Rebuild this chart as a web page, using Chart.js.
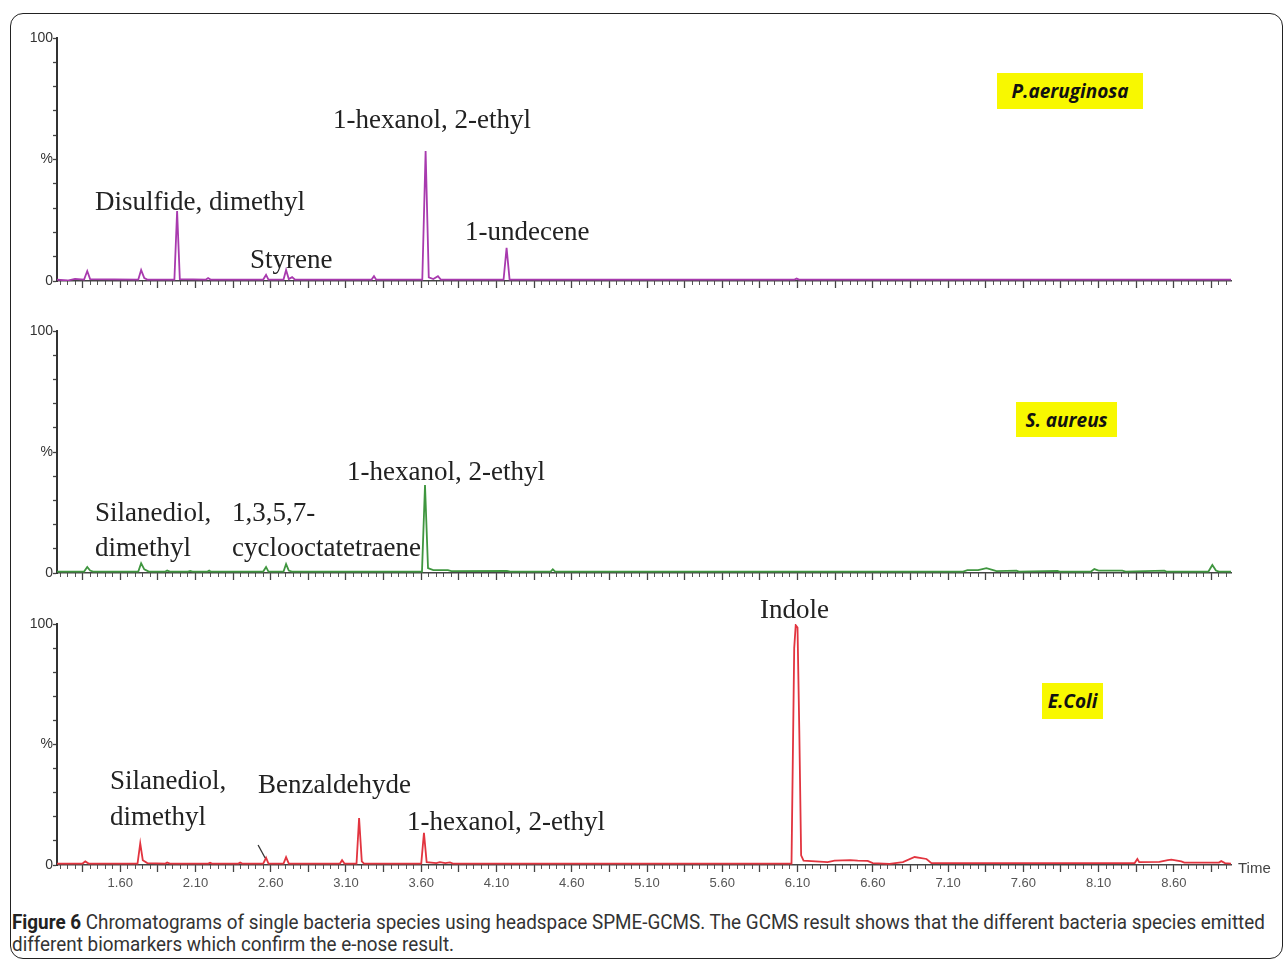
<!DOCTYPE html>
<html><head><meta charset="utf-8">
<script src="https://cdn.jsdelivr.net/npm/chart.js@4/dist/chart.umd.min.js"></script>
<style>
html,body{margin:0;padding:0;background:#fff;}
body{width:1285px;height:967px;position:relative;overflow:hidden;}
#frame{position:absolute;left:10px;top:13px;width:1273px;height:946px;border:1.5px solid #222;border-radius:13px;box-sizing:border-box;}
canvas{position:absolute;left:0;}
.lbl{position:absolute;font-family:'Liberation Serif','Times New Roman',serif;font-size:27px;line-height:27px;color:#222;white-space:nowrap;}
.sp{position:absolute;background:#f8f800;font-family:'Open Sans',sans-serif;font-weight:700;font-style:italic;font-size:19px;color:#111;display:flex;align-items:center;justify-content:center;white-space:nowrap;}
.time{position:absolute;left:1238px;top:859px;font-family:'Liberation Sans',Arial,sans-serif;font-size:15px;color:#444;}
#cap{position:absolute;left:12px;top:912px;font-family:'Liberation Sans Narrow','Roboto','Noto Sans',sans-serif;font-size:19.5px;line-height:22px;color:#333;white-space:nowrap;}
#cap div{transform-origin:left center;}
#cap b{color:#222;}
</style></head>
<body>
<div id="frame"></div>
<canvas id="c1"></canvas>
<canvas id="c2"></canvas>
<canvas id="c3"></canvas>
<div id="labels"></div>
<div class="time">Time</div>
<div id="cap"><div id="cap1"><b>Figure 6</b> Chromatograms of single bacteria species using headspace SPME-GCMS. The GCMS result shows that the different bacteria species emitted</div><div id="cap2">different biomarkers which confirm the e-nose result.</div></div>
<script>
// ---------- data (retention time in min, relative abundance in %) ----------
const xTickLabels = ['1.60','2.10','2.60','3.10','3.60','4.10','4.60','5.10','5.60','6.10','6.60','7.10','7.60','8.10','8.60'];
const yTickValues = [0, 50, 100];
const yTickTexts = ['0', '%', '100'];

const paTimes  = [1.18,1.25,1.30,1.36,1.381,1.40,1.72,1.739,1.76,1.78,1.960,1.978,1.996,2.17,2.184,2.20,2.55,2.569,2.585,2.685,2.702,2.72,2.742,2.76,3.27,3.286,3.30,3.607,3.629,3.65,3.68,3.711,3.73,4.147,4.167,4.187,6.08,6.094,6.11,8.98];
const paSignal = [0.6, 0.2, 0.9, 0.6, 4.1,  0.8, 0.6, 4.5,  1.2, 0.6, 0.6,  28.8, 0.8,  0.6, 1.2,  0.6, 0.6, 2.5,  0.6,  0.6,  4.5,  0.8, 1.6,  0.6, 0.6, 2.0,  0.6, 0.6,  53.5, 1.5, 0.8, 2.0,  0.6, 0.6,  13.6, 0.6,  0.6, 1.0,  0.6, 0.6];

const saTimes  = [1.18,1.36,1.381,1.40,1.42,1.72,1.739,1.76,1.79,1.90,1.912,1.93,2.05,2.065,2.08,2.18,2.191,2.20,2.55,2.569,2.585,2.685,2.702,2.72,2.74,3.605,3.625,3.645,3.68,3.777,3.80,4.169,4.19,4.46,4.474,4.49,7.20,7.229,7.30,7.355,7.40,7.422,7.555,7.57,7.827,7.84,8.05,8.072,8.10,8.258,8.28,8.537,8.55,8.83,8.856,8.88,8.90,8.98];
const saSignal = [0.6, 0.6, 2.5,  1.0, 0.6, 0.6, 4.0,  1.5, 0.6, 0.6, 1.0,  0.6, 0.6, 0.9,  0.6, 0.6, 1.0,  0.6, 0.6, 2.5,  0.6,  0.6,  3.7,  1.0, 0.6, 0.6,  36.4, 2.0,  1.2, 1.2,  0.8, 0.9,  0.6, 0.6, 1.5,  0.6, 0.6, 1.2,  1.2, 2.0,  1.2, 0.8,  1.0,  0.6, 0.9,  0.6, 0.6, 1.6,  1.0, 1.0,  0.6, 1.0,  0.6, 0.6, 3.3,  1.0, 0.6, 0.6];

const ecTimes  = [1.18,1.35,1.368,1.39,1.715,1.733,1.75,1.78,1.90,1.912,1.93,2.185,2.197,2.21,2.385,2.397,2.41,2.55,2.569,2.585,2.685,2.702,2.72,3.06,3.074,3.09,3.170,3.187,3.205,3.22,3.600,3.618,3.636,3.70,3.724,3.76,3.791,3.81,6.060,6.078,6.088,6.100,6.112,6.124,6.14,6.30,6.346,6.45,6.50,6.566,6.60,6.711,6.80,6.878,6.957,6.99,8.34,8.358,8.37,8.504,8.56,8.584,8.65,8.670,8.90,8.915,8.94,8.98];
const ecSignal = [0.6, 0.6, 1.5,  0.6, 0.6,  9.0,  2.0, 0.8, 0.6, 1.0,  0.6, 0.6,  0.9,  0.6, 0.6,  1.0,  0.6, 0.6, 3.0,  0.6,  0.6,  3.3,  0.6, 0.6, 2.0,  0.6, 0.6,  19.5, 1.5,  0.6, 0.6,  13.3, 1.2,  0.8, 1.2,  0.8, 1.1,  0.6, 0.6,  90.0, 99.5, 98.5, 55.0, 4.0,  1.8, 1.2, 1.8,  2.0, 1.8, 1.7,  0.8, 0.5,  1.2, 3.3,  2.5,  0.8, 0.8, 2.5,  1.2, 1.3,  2.0, 2.2,  1.5, 1.0,  1.0, 1.6,  0.8, 0.6];

// annotation arrow (E. coli, near 2.57 min), in data units [time, %]
const ecArrow = [[2.516, 8.3], [2.563, 2.9]];

// ---------- layout ----------
const AREA_LEFT = 57, AREA_RIGHT = 1231, PAD_TOP = 16, BOTTOM_SPACE = 30;
const xMin = 1.18, xMax = 8.98;
const xTickValues = xTickLabels.map(Number);
const majorTicks = []; for (let k = 0; k <= 30; k++) majorTicks.push(Math.round((1.35 + 0.25 * k) * 100) / 100);
const minorTicks = []; for (let k = 0; k <= 155; k++) minorTicks.push(Math.round((1.20 + 0.05 * k) * 100) / 100);
const yMarks = []; for (let k = 0; k <= 10; k++) yMarks.push(k * 10);

const arrowPlugin = {
  id: 'arrow',
  afterDatasetsDraw(chart, args, opts) {
    if (!opts.points) return;
    const {ctx, scales: {x, y}} = chart;
    ctx.save();
    ctx.strokeStyle = '#333'; ctx.lineWidth = 1.3;
    ctx.beginPath();
    ctx.moveTo(x.getPixelForValue(opts.points[0][0]), y.getPixelForValue(opts.points[0][1]));
    ctx.lineTo(x.getPixelForValue(opts.points[1][0]), y.getPixelForValue(opts.points[1][1]));
    ctx.stroke();
    ctx.restore();
  }
};

function panel(id, times, signal, color, areaTop, areaBottom, showX, arrow) {
  const cv = document.getElementById(id);
  const h = areaBottom - areaTop + PAD_TOP + BOTTOM_SPACE;
  cv.style.top = (areaTop - PAD_TOP) + 'px';
  cv.width = 1285; cv.height = h;
  cv.style.width = '1285px'; cv.style.height = h + 'px';
  return new Chart(cv, {
    type: 'line',
    data: {datasets: [{
      data: times.map((t, i) => ({x: t, y: signal[i]})),
      borderColor: color, borderWidth: 1.8, pointRadius: 0, tension: 0, fill: false
    }]},
    plugins: [arrowPlugin],
    options: {
      responsive: false, animation: false, devicePixelRatio: 1,
      layout: {padding: {top: PAD_TOP, left: 0, right: 1285 - AREA_RIGHT, bottom: 0}},
      plugins: {legend: {display: false}, tooltip: {enabled: false}, arrow: {points: arrow || null}},
      scales: {
        xm: {
          type: 'linear', position: 'bottom', min: xMin, max: xMax, weight: 0,
          afterFit: s => { s.height = 0; },
          afterBuildTicks: s => { s.ticks = minorTicks.map(v => ({value: v})); },
          ticks: {display: false, autoSkip: false},
          grid: {drawOnChartArea: false, drawTicks: true, tickLength: 4, tickColor: '#555', tickWidth: 1},
          border: {display: false}
        },
        x: {
          type: 'linear', position: 'bottom', min: xMin, max: xMax, weight: 1,
          afterFit: s => { s.height = BOTTOM_SPACE; },
          afterBuildTicks: s => { s.ticks = majorTicks.map(v => ({value: v})); },
          ticks: {
            display: showX, autoSkip: false, maxRotation: 0, padding: 4,
            font: {family: "'Liberation Sans', Arial, sans-serif", size: 13}, color: '#555',
            callback: v => { const i = xTickValues.findIndex(t => Math.abs(t - v) < 1e-6); return i >= 0 ? xTickLabels[i] : ''; }
          },
          grid: {drawOnChartArea: false, drawTicks: true, tickLength: 7, tickColor: '#444', tickWidth: 1.3},
          border: {display: true, color: '#444', width: 1.5}
        },
        y: {
          type: 'linear', min: 0, max: 100,
          afterFit: s => { s.width = AREA_LEFT; },
          afterBuildTicks: s => { s.ticks = yMarks.map(v => ({value: v})); },
          ticks: {
            autoSkip: false, padding: 0,
            font: {family: "'Liberation Sans', Arial, sans-serif", size: 14}, color: '#333',
            callback: v => { const i = yTickValues.indexOf(v); return i >= 0 ? yTickTexts[i] : ''; }
          },
          grid: {drawOnChartArea: false, drawTicks: true, tickLength: 4, tickColor: '#444', tickWidth: 1.3},
          border: {display: true, color: '#333', width: 2}
        }
      }
    }
  });
}

panel('c1', paTimes, paSignal, '#a83aae', 38, 281, false);
panel('c2', saTimes, saSignal, '#3f963f', 331, 573, false);
panel('c3', ecTimes, ecSignal, '#e2343f', 624, 865, true, ecArrow);

// ---------- text annotations ----------
const peakLabels = [
  ['Disulfide, dimethyl', 95, 202], ['Styrene', 250, 260], ['1-hexanol, 2-ethyl', 333, 120], ['1-undecene', 465, 232],
  ['Silanediol,', 95, 513], ['dimethyl', 95, 548], ['1,3,5,7-', 232, 513], ['cyclooctatetraene', 232, 548], ['1-hexanol, 2-ethyl', 347, 472],
  ['Silanediol,', 110, 781], ['dimethyl', 110, 817], ['Benzaldehyde', 258, 785], ['1-hexanol, 2-ethyl', 407, 822], ['Indole', 760, 610]
];
const speciesLabels = [
  ['P.aeruginosa', 997, 73, 146, 36], ['S. aureus', 1016, 402, 101, 35], ['E.Coli', 1042, 683, 61, 36]
];
const host = document.getElementById('labels');
peakLabels.forEach(([t, l, cy]) => {
  const d = document.createElement('div'); d.className = 'lbl'; d.textContent = t;
  d.style.left = l + 'px'; d.style.top = (cy - 14) + 'px'; host.appendChild(d);
});
speciesLabels.forEach(([t, l, tp, w, h]) => {
  const d = document.createElement('div'); d.className = 'sp'; d.textContent = t;
  d.style.left = l + 'px'; d.style.top = tp + 'px'; d.style.width = w + 'px'; d.style.height = h + 'px'; host.appendChild(d);
});

// caption fitting
const c1 = document.getElementById('cap1'), c2 = document.getElementById('cap2');
const sc = 1253 / c1.scrollWidth;
c1.style.transform = 'scaleX(' + sc + ')';
c2.style.transform = 'scaleX(' + sc + ')';
</script>
</body></html>
